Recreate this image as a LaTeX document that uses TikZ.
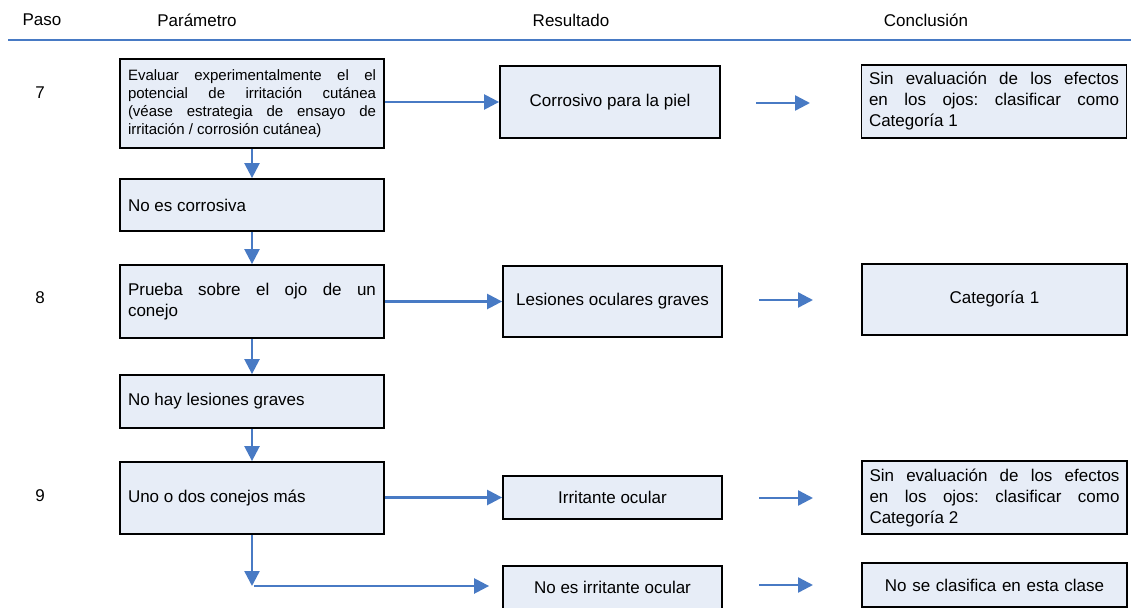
\documentclass[tikz,border=0pt]{standalone}
\usepackage{fontspec}
\setmainfont{Liberation Sans}
\usetikzlibrary{arrows.meta}
\definecolor{boxfill}{RGB}{231,237,247}
\definecolor{arrblue}{RGB}{72,122,196}
\frenchspacing
\tikzset{
  stepbox/.style={draw=black, line width=1.8pt, fill=boxfill, rectangle, inner sep=0pt,
    minimum width=264pt, text width=248pt, align=justify, font=\fontsize{17}{21}\selectfont},
  resbox/.style={draw=black, line width=1.8pt, fill=boxfill, rectangle, inner sep=0pt,
    minimum width=220pt, align=center, font=\fontsize{17}{21}\selectfont},
  conbox/.style={draw=black, line width=1.8pt, fill=boxfill, rectangle, inner sep=0pt,
    minimum width=265pt, text width=250pt, align=justify, font=\fontsize{17}{21}\selectfont},
  hdr/.style={font=\fontsize{17}{21}\selectfont},
  arr/.style={draw=arrblue, line width=2.4pt, -{Triangle[length=15pt,width=15pt]}},
  ln/.style={draw=arrblue, line width=2.2pt},
}
\begin{document}
\begin{tikzpicture}[x=1pt,y=-1pt]
\useasboundingbox (0,0) rectangle (1131,607);
% header
\node[hdr] (hpaso) at (42,20) {Paso};
\node[hdr] (hpar) at (197,20) {Parámetro};
\node[hdr] (hres) at (571,20) {Resultado};
\node[hdr] (hcon) at (926,20) {Conclusión};
\coordinate (hl1) at (8,40);
\coordinate (hl2) at (1131,40);
\draw[ln] (hl1) -- (hl2);
% step numbers
\node[hdr] (s7) at (40,93) {7};
\node[hdr] (s8) at (40,298) {8};
\node[hdr] (s9) at (40,496) {9};
% parameter column
\node[stepbox, minimum height=89pt, font=\fontsize{15}{18}\selectfont] (b1) at (252,103.5)
  {Evaluar experimentalmente el el\linebreak potencial de irritación cutánea\linebreak (véase estrategia de ensayo de\linebreak irritación / corrosión cutánea)};
\node[stepbox, minimum height=52pt] (b2) at (252,205) {No es corrosiva};
\node[stepbox, minimum height=73pt] (b3) at (252,301.5) {Prueba sobre el ojo de un\linebreak conejo};
\node[stepbox, minimum height=53pt] (b4) at (252,401.5) {No hay lesiones graves};
\node[stepbox, minimum height=72pt] (b5) at (252,498) {Uno o dos conejos más};
% result column
\node[resbox, minimum height=72pt] (r1) at (610,102) {Corrosivo para la piel};
\node[resbox, minimum width=219pt, minimum height=71pt] (r2) at (612.5,301.5) {Lesiones oculares graves};
\node[resbox, minimum width=219pt, minimum height=43pt] (r3) at (612.5,497.5) {Irritante ocular};
\node[resbox, minimum width=219pt, minimum height=43pt] (r4) at (612.5,587.5) {No es irritante ocular};
% conclusion column
\node[conbox, minimum height=73pt] (c1) at (994,101.5)
  {Sin evaluación de los efectos\linebreak en los ojos: clasificar como\linebreak Categoría 1};
\node[conbox, minimum height=71pt, align=center] (c2) at (994.5,299.5) {Categoría 1};
\node[conbox, minimum height=73pt] (c3) at (994.5,497.5)
  {Sin evaluación de los efectos\linebreak en los ojos: clasificar como\linebreak Categoría 2};
\node[conbox, minimum height=44pt, align=center] (c4) at (994.5,585) {No se clasifica en esta clase};
% vertical arrows
\draw[arr] (b1.south) -- (b2.north);
\draw[arr] (b2.south) -- (b3.north);
\draw[arr] (b3.south) -- (b4.north);
\draw[arr] (b4.south) -- (b5.north);
\coordinate (turn) at (252,586);
\coordinate (turn2) at (254,586);
\draw[arr] (b5.south) -- (turn);
\draw[arr] (turn2) -- ([xshift=-13pt]r4.west |- turn2);
% horizontal arrows to results
\draw[arr] (b1.east |- r1.west) -- (r1.west);
\draw[arr] (b3.east |- r2.west) -- (r2.west);
\draw[arr] (b5.east |- r3.west) -- (r3.west);
% arrows result -> conclusion
\coordinate (a1s) at (756,103); \coordinate (a1e) at (810,103);
\coordinate (a2s) at (759,300); \coordinate (a2e) at (813,300);
\coordinate (a3s) at (759,498); \coordinate (a3e) at (813,498);
\coordinate (a4s) at (759,585); \coordinate (a4e) at (813,585);
\draw[arr] (a1s) -- (a1e);
\draw[arr] (a2s) -- (a2e);
\draw[arr] (a3s) -- (a3e);
\draw[arr] (a4s) -- (a4e);
\end{tikzpicture}
\end{document}
